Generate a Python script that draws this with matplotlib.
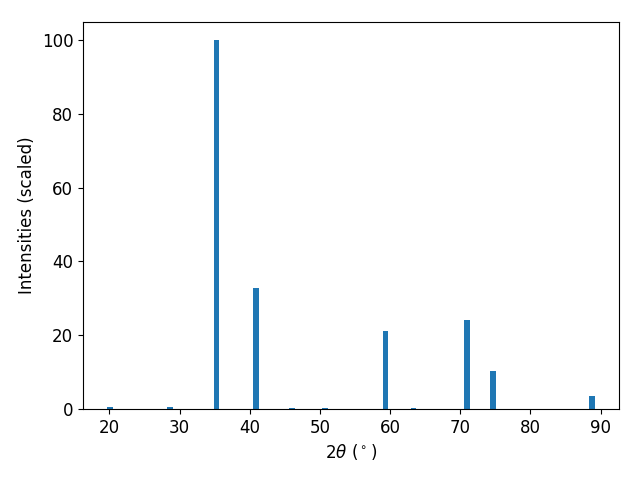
import matplotlib
matplotlib.use('Agg')
import matplotlib.pyplot as plt

# peak positions (2theta, degrees) and scaled intensities
two_theta = [20.1, 28.6, 35.25, 40.92, 46.0, 50.75, 59.36, 63.36, 71.0, 74.65, 88.8]
intensities = [0.5, 0.5, 100.0, 32.7, 0.2, 0.25, 21.0, 0.25, 24.0, 10.4, 3.4]

plt.rcParams['font.size'] = 12

fig, ax = plt.subplots(figsize=(6.4, 4.8), dpi=100)
ax.bar(two_theta, intensities, width=0.8)
ax.set_xlabel(r'$2\theta$ ($^\circ$)')
ax.set_ylabel('Intensities (scaled)')

fig.subplots_adjust(left=0.1297, right=0.9676, top=0.9552, bottom=0.148)
plt.savefig('out.png', dpi=100)
